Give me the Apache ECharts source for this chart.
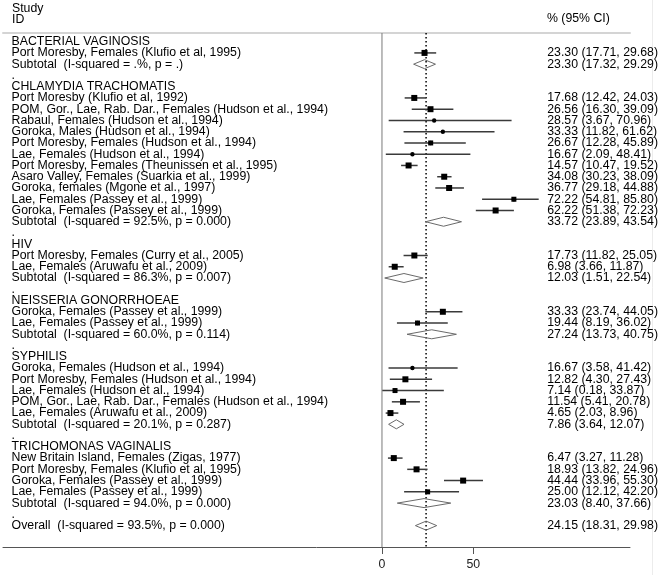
<!DOCTYPE html>
<html>
<head>
<meta charset="utf-8">
<script src="https://cdn.jsdelivr.net/npm/echarts@6/dist/echarts.min.js"></script>
<style>
  html, body { margin: 0; background: #fff; }
  #chart { width: 661px; height: 575px; }
</style>
</head>
<body>
<div id="chart"></div>
<script>
// one entry per row of the plot, top to bottom
const rowLabels = [
  'BACTERIAL VAGINOSIS',
  'Port Moresby, Females (Klufio et al, 1995)',
  'Subtotal  (I-squared = .%, p = .)',
  '.',
  'CHLAMYDIA TRACHOMATIS',
  'Port Moresby (Klufio et al, 1992)',
  'POM, Gor., Lae, Rab. Dar., Females (Hudson et al., 1994)',
  'Rabaul, Females (Hudson et al., 1994)',
  'Goroka, Males (Hudson et al., 1994)',
  'Port Moresby, Females (Hudson et al., 1994)',
  'Lae, Females (Hudson et al., 1994)',
  'Port Moresby, Females (Theunissen et al., 1995)',
  'Asaro Valley, Females (Suarkia et al., 1999)',
  'Goroka, females (Mgone et al., 1997)',
  'Lae, Females (Passey et al., 1999)',
  'Goroka, Females (Passey et al., 1999)',
  'Subtotal  (I-squared = 92.5%, p = 0.000)',
  '.',
  'HIV',
  'Port Moresby, Females (Curry et al., 2005)',
  'Lae, Females (Aruwafu et al., 2009)',
  'Subtotal  (I-squared = 86.3%, p = 0.007)',
  '.',
  'NEISSERIA GONORRHOEAE',
  'Goroka, Females (Passey et al., 1999)',
  'Lae, Females (Passey et al., 1999)',
  'Subtotal  (I-squared = 60.0%, p = 0.114)',
  '.',
  'SYPHILIS',
  'Goroka, Females (Hudson et al., 1994)',
  'Port Moresby, Females (Hudson et al., 1994)',
  'Lae, Females (Hudson et al., 1994)',
  'POM, Gor., Lae, Rab. Dar., Females (Hudson et al., 1994)',
  'Lae, Females (Aruwafu et al., 2009)',
  'Subtotal  (I-squared = 20.1%, p = 0.287)',
  '.',
  'TRICHOMONAS VAGINALIS',
  'New Britain Island, Females (Zigas, 1977)',
  'Port Moresby, Females (Klufio et al, 1995)',
  'Goroka, Females (Passey et al., 1999)',
  'Lae, Females (Passey et al., 1999)',
  'Subtotal  (I-squared = 94.0%, p = 0.000)',
  '.',
  'Overall  (I-squared = 93.5%, p = 0.000)',
];
const rowKinds = [
  'head', 'study', 'sub', 'gap',
  'head', 'study', 'study', 'study', 'study', 'study', 'study', 'study', 'study', 'study', 'study', 'study', 'sub', 'gap',
  'head', 'study', 'study', 'sub', 'gap',
  'head', 'study', 'study', 'sub', 'gap',
  'head', 'study', 'study', 'study', 'study', 'study', 'sub', 'gap',
  'head', 'study', 'study', 'study', 'study', 'sub', 'gap',
  'overall',
];
const estimates = [
  null, 23.30, 23.30, null,
  null, 17.68, 26.56, 28.57, 33.33, 26.67, 16.67, 14.57, 34.08, 36.77, 72.22, 62.22, 33.72, null,
  null, 17.73, 6.98, 12.03, null,
  null, 33.33, 19.44, 27.24, null,
  null, 16.67, 12.82, 7.14, 11.54, 4.65, 7.86, null,
  null, 6.47, 18.93, 44.44, 25.00, 23.03, null,
  24.15,
];
const lowerCI = [
  null, 17.71, 17.32, null,
  null, 12.42, 16.30, 3.67, 11.82, 12.28, 2.09, 10.47, 30.23, 29.18, 54.81, 51.38, 23.89, null,
  null, 11.82, 3.66, 1.51, null,
  null, 23.74, 8.19, 13.73, null,
  null, 3.58, 4.30, 0.18, 5.41, 2.03, 3.64, null,
  null, 3.27, 13.82, 33.96, 12.12, 8.40, null,
  18.31,
];
const upperCI = [
  null, 29.68, 29.29, null,
  null, 24.03, 39.09, 70.96, 61.62, 45.89, 48.41, 19.52, 38.09, 44.88, 85.80, 72.23, 43.54, null,
  null, 25.05, 11.87, 22.54, null,
  null, 44.05, 36.02, 40.75, null,
  null, 41.42, 27.43, 33.87, 20.78, 8.96, 12.07, null,
  null, 11.28, 24.96, 55.30, 42.20, 37.66, null,
  29.98,
];
// relative study weights, shown as box size (0 = only the point is visible)
const weights = [
  0, 6, 0, 0,
  0, 6, 6, 0, 0, 5, 0, 6, 6, 6, 5, 6, 0, 0,
  0, 6, 6, 0, 0,
  0, 6, 5, 0, 0,
  0, 0, 6, 5, 6, 6, 0, 0,
  0, 6, 6, 6, 5, 0, 0,
  0,
];
const xTicks = [0, 50];

const FONT = '"Liberation Sans", Arial, sans-serif';
const FONT_SIZE = 12.3;
const LEFT_TEXT_X = -202.8;
const RIGHT_TEXT_X = 90.5;
const overall = estimates[rowKinds.indexOf('overall')];

const rows = rowLabels.map((label, i) => [estimates[i] == null ? 0 : estimates[i], i + 1]);

const renderRow = (params, api) => {
  const i = params.dataIndex;
  const kind = rowKinds[i];
  const row = api.value(1);
  const children = [];
  const left = api.coord([LEFT_TEXT_X, row]);
  children.push({
    type: 'text',
    style: { text: rowLabels[i], x: left[0], y: left[1], fill: '#000', fontSize: FONT_SIZE, fontFamily: FONT, verticalAlign: 'middle' },
  });
  if (kind === 'head' || kind === 'gap') {
    return { type: 'group', children };
  }
  const est = api.coord([estimates[i], row]);
  const lo = api.coord([lowerCI[i], row]);
  const hi = api.coord([upperCI[i], row]);
  if (kind === 'study') {
    children.push({
      type: 'line',
      shape: { x1: lo[0], y1: lo[1], x2: hi[0], y2: hi[1] },
      style: { stroke: '#3a3a3a', lineWidth: 1.5 },
    });
    const s = weights[i];
    if (s > 0) {
      children.push({
        type: 'rect',
        shape: { x: est[0] - s / 2, y: est[1] - s / 2, width: s, height: s },
        style: { fill: '#000' },
      });
    }
    children.push({ type: 'circle', shape: { cx: est[0], cy: est[1], r: 2.2 }, style: { fill: '#000' } });
  } else {
    const h = 4.5;
    children.push({
      type: 'polygon',
      shape: { points: [[lo[0], lo[1]], [est[0], est[1] - h], [hi[0], hi[1]], [est[0], est[1] + h]] },
      style: { fill: 'none', stroke: '#6a6a6a', lineWidth: 1 },
    });
  }
  const right = api.coord([RIGHT_TEXT_X, row]);
  children.push({
    type: 'text',
    style: {
      text: `${estimates[i].toFixed(2)} (${lowerCI[i].toFixed(2)}, ${upperCI[i].toFixed(2)})`,
      x: right[0], y: right[1], fill: '#000', fontSize: FONT_SIZE, fontFamily: FONT, verticalAlign: 'middle',
    },
  });
  return { type: 'group', children };
};

const renderRefLine = (params, api) => {
  const x = api.coord([api.value(0), 1])[0];
  const cs = params.coordSys;
  const dotted = params.dataIndex === 1;
  return {
    type: 'line',
    shape: { x1: x, y1: cs.y, x2: x, y2: cs.y + cs.height },
    style: dotted
      ? { stroke: '#000', lineWidth: 1.5, lineDash: [1.5, 2.5] }
      : { stroke: '#7a7a7a', lineWidth: 1 },
  };
};

const chart = echarts.init(document.getElementById('chart'));
chart.setOption({
  animation: false,
  backgroundColor: '#fff',
  grid: { left: 3, right: 31, top: 33, bottom: 28 },
  xAxis: [
    {
      type: 'value',
      position: 'bottom',
      min: -207.5,
      max: 135.8,
      splitLine: { show: false },
      axisLine: { lineStyle: { color: '#555', width: 1 } },
      axisTick: { customValues: xTicks, length: 7, lineStyle: { color: '#555' } },
      axisLabel: { customValues: xTicks, fontSize: FONT_SIZE, fontFamily: FONT, color: '#222', margin: 12 },
    },
    {
      type: 'value',
      position: 'top',
      min: -207.5,
      max: 135.8,
      splitLine: { show: false },
      axisLine: { lineStyle: { color: '#d4d4d4', width: 2 } },
      axisTick: { show: false },
      axisLabel: { show: false },
    },
  ],
  yAxis: { type: 'value', inverse: true, min: 0.23, max: 45.9, show: false },
  graphic: [
    { type: 'text', left: 12, top: 3, style: { text: 'Study', fontSize: FONT_SIZE, fontFamily: FONT, fill: '#000' } },
    { type: 'text', left: 12, top: 14, style: { text: 'ID', fontSize: FONT_SIZE, fontFamily: FONT, fill: '#000' } },
    { type: 'text', left: 547, top: 13, style: { text: '% (95% CI)', fontSize: FONT_SIZE, fontFamily: FONT, fill: '#000' } },
    { type: 'line', shape: { x1: 652.5, y1: 0, x2: 652.5, y2: 575 }, style: { stroke: '#ececec', lineWidth: 1 }, silent: true },
  ],
  series: [
    { type: 'custom', renderItem: renderRefLine, data: [[0, 1], [overall, 1]], silent: true, z: 1 },
    { type: 'custom', renderItem: renderRow, data: rows, silent: true, z: 2 },
  ],
});
</script>
</body>
</html>
